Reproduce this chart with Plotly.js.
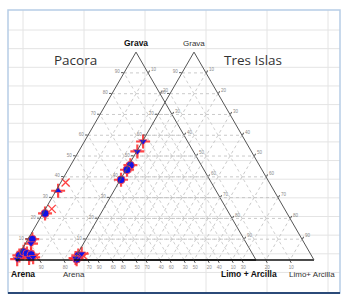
<!DOCTYPE html>
<html>
<head>
<meta charset="utf-8">
<script src="https://cdn.plot.ly/plotly-3.0.1.min.js"></script>
<style>html,body{margin:0;padding:0;background:#fff;}#chart{width:349px;height:297px;}</style>
</head>
<body>
<div id="chart"></div>
<script>
// ---- data (percent) : Grava (gravel) and Limo + Arcilla (silt+clay); Arena = remainder ----
const pacCircGrava = [2.2, 3.9, 3.1, 2.6, 10.0, 22.4];
const pacCircLimo  = [0.3, 1.2, 3.0, 5.0, 1.8, 0.9];
const pacTriDnGrava = [0.4, 0.9, 7.9, 1.3];
const pacTriDnLimo  = [0.3, 5.0, 2.3, 6.5];
const pacTriUpGrava = [33.3];
const pacTriUpLimo  = [0.9];
const pacXGrava = [37.3, 24.6, 1.5];
const pacXLimo  = [2.0, 2.6, 7.5];

const tresCircGrava = [45.6, 43.4, 38.6, 2.2, 0.4];
const tresCircLimo  = [0.7, 0.4, 0.3, 0.7, 0.9];
const tresTriDnGrava = [57.0, 52.2, 0.9, 3.0];
const tresTriDnLimo  = [0.3, 0.3, 0.2, 1.7];
const tresXGrava = [1.8];
const tresXLimo  = [3.2];

const tickValues = [10, 20, 30, 40, 50, 60, 70, 80, 90];
const axisLabels = {grava: 'Grava', arena: 'Arena', limo: 'Limo + Arcilla', limo2: 'Limo+ Arcilla'};
const sites = ['Pacora', 'Tres Islas'];

function tern(sub, g, l, marker) {
  return {
    type: 'scatterternary', subplot: sub, mode: 'markers',
    a: g, c: l, b: g.map((v, i) => 100 - v - l[i]),
    marker: marker, hoverinfo: 'skip', showlegend: false, cliponaxis: false
  };
}
const halo = {symbol: 'cross-thin-open', size: 10, color: 'rgba(255,40,40,0.85)', line: {color: 'rgba(255,40,40,0.85)', width: 2.2}};
const blueCirc = {symbol: 'circle', size: 8, color: '#1212e6', line: {color: 'rgba(255,70,70,0.9)', width: 1}};
const blueTriDn = {symbol: 'triangle-down', size: 7, color: '#1212e6', line: {color: 'rgba(255,70,70,0.9)', width: 0.8}};
const blueTriUp = {symbol: 'triangle-up', size: 7, color: '#1212e6', line: {color: 'rgba(255,70,70,0.9)', width: 0.8}};
const redX = {symbol: 'x-thin-open', size: 8, color: '#ff4040', line: {color: '#ff4040', width: 1.3}};

const traces = [];
[['ternary', pacCircGrava, pacCircLimo, pacTriDnGrava, pacTriDnLimo, pacTriUpGrava, pacTriUpLimo, pacXGrava, pacXLimo],
 ['ternary2', tresCircGrava, tresCircLimo, tresTriDnGrava, tresTriDnLimo, [], [], tresXGrava, tresXLimo]]
.forEach(([s, cg, cl, tg, tl, ug, ul, xg, xl]) => {
  traces.push(tern(s, cg.concat(tg, ug), cl.concat(tl, ul), halo));
  traces.push(tern(s, xg, xl, redX));
  traces.push(tern(s, cg, cl, blueCirc));
  traces.push(tern(s, tg, tl, blueTriDn));
  if (ug.length) traces.push(tern(s, ug, ul, blueTriUp));
});

function ax(bottom) {
  return {
    title: {text: ''}, min: 0,
    linecolor: bottom ? '#111' : '#555', linewidth: bottom ? 1.5 : 1,
    showgrid: true, gridcolor: '#c4c4c4', gridwidth: 0.8, griddash: 'dot',
    ticks: 'outside', ticklen: 2.5, tickcolor: '#555',
    tickmode: 'array', tickvals: tickValues,
    showticklabels: true, tickfont: {size: 4.5, color: '#8a8a8a', family: 'Liberation Sans'}
  };
}
function ternLayout(x0, x1) {
  return {
    sum: 100, bgcolor: 'rgba(0,0,0,0)',
    domain: {x: [x0 / 349, x1 / 349], y: [0.1246, 0.8246]},
    aaxis: ax(false), baxis: ax(true), caxis: ax(false)
  };
}

// spreadsheet-like background cells
const shapes = [];
for (let k = 0; k < 14; k++) {
  const y = 30 + 18.65 * k;
  shapes.push({type: 'line', xref: 'paper', yref: 'paper', layer: 'below',
    x0: 8 / 349, x1: 340 / 349, y0: 1 - y / 297, y1: 1 - y / 297, line: {color: '#e4e4e4', width: 1}});
}
[23, 84, 145, 206, 267, 328].forEach(x => {
  shapes.push({type: 'line', xref: 'paper', yref: 'paper', layer: 'below',
    x0: x / 349, x1: x / 349, y0: 1 - 10 / 297, y1: 1 - 293 / 297, line: {color: '#e4e4e4', width: 1}});
});
shapes.push({type: 'rect', xref: 'paper', yref: 'paper', layer: 'below',
  x0: 8 / 349, x1: 340 / 349, y0: 1 - 293 / 297, y1: 1 - 10 / 297, line: {color: '#b7cde6', width: 1.5}});
shapes.push({type: 'line', xref: 'paper', yref: 'paper', layer: 'below',
  x0: 8 / 349, x1: 340 / 349, y0: 1 - 293 / 297, y1: 1 - 293 / 297, line: {color: '#2b4a78', width: 2}});

function ann(text, px, py, size, bold, anchor, extra) {
  return Object.assign({
    text: bold ? '<b>' + text + '</b>' : text, xref: 'paper', yref: 'paper',
    x: px / 349, y: 1 - py / 297, xanchor: anchor || 'center', yanchor: 'middle', showarrow: false,
    font: {family: 'Liberation Sans', size: size, color: bold ? '#111' : '#333'}
  }, extra || {});
}
const annotations = [
  ann(sites[0], 75, 60, 14, false, 'center', {font: {family: 'Open Sans', size: 13.5, color: '#333'}}),
  ann(sites[1], 253, 60, 14, false, 'center', {font: {family: 'Open Sans', size: 13.5, color: '#333'}}),
  ann(axisLabels.grava, 136, 43, 8.5, true),
  ann(axisLabels.grava, 194, 43, 8, false),
  ann(axisLabels.arena, 23, 274, 8.5, true),
  ann(axisLabels.arena, 74, 274, 8, false),
  ann(axisLabels.limo, 219, 274, 8.5, true, 'left'),
  ann(axisLabels.limo2, 287, 274, 8, false, 'left')
];

const layout = {
  width: 349, height: 297, margin: {l: 0, r: 0, t: 0, b: 0},
  paper_bgcolor: '#ffffff', showlegend: false,
  ternary: ternLayout(16, 256), ternary2: ternLayout(74, 314),
  shapes: shapes, annotations: annotations
};
Plotly.newPlot('chart', traces, layout, {displayModeBar: false, staticPlot: true});
</script>
</body>
</html>
